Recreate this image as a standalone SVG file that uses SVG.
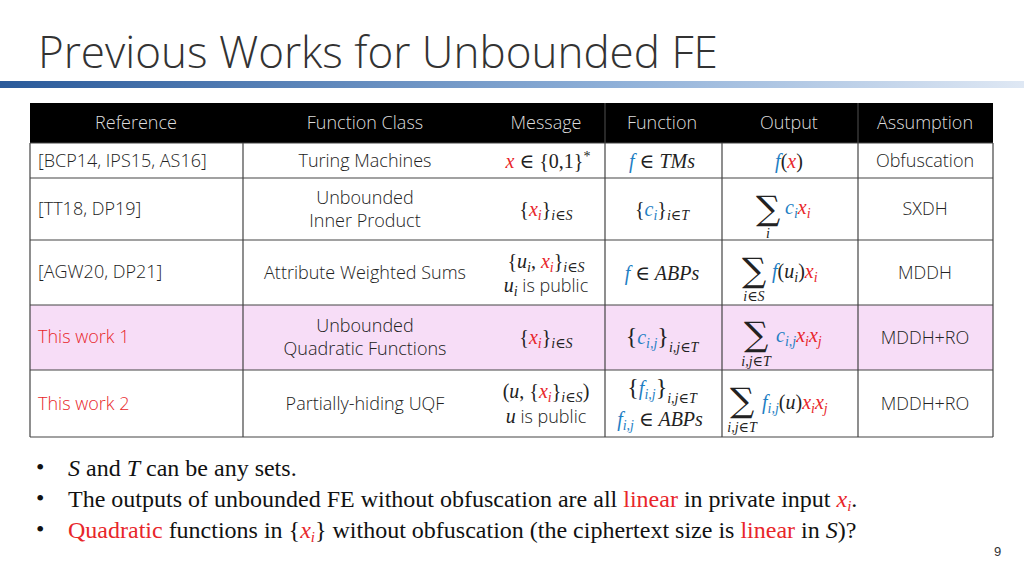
<svg xmlns="http://www.w3.org/2000/svg" width="1024" height="576" viewBox="0 0 1024 576">
<defs>
<linearGradient id="bar" x1="0" x2="1" y1="0" y2="0"><stop offset="0" stop-color="#2a5a9a"/><stop offset="0.6" stop-color="#8fb0d8"/><stop offset="1" stop-color="#dfe8f4"/></linearGradient>
</defs>
<style>
.t{font-family:"Open Sans","Liberation Sans",sans-serif;font-weight:300;font-size:18px;fill:#222}
.h{font-family:"Open Sans","Liberation Sans",sans-serif;font-weight:300;font-size:18px;fill:#ddd}
.m{font-family:"Liberation Serif","DejaVu Serif",serif;font-style:italic;font-size:20px;fill:#222}
.n{font-style:normal}
.r{fill:#e8262a}.b{fill:#1f7fc4}
.s{font-size:14px}
.sig{font-family:"DejaVu Serif",serif;font-size:34px;fill:#222;font-style:normal}
.g line{stroke:#444;stroke-width:1.2}
.bl{font-family:"Liberation Serif",serif;font-size:24px;fill:#111}
</style>
<rect width="1024" height="576" fill="#fff"/>
<text x="38" y="68" style="font-family:'Open Sans','Liberation Sans',sans-serif;font-size:44px;font-weight:300;fill:#333">Previous Works for Unbounded FE</text>
<rect x="0" y="81" width="1024" height="7" fill="url(#bar)"/>
<g id="table">
<rect x="30" y="103" width="963" height="40" fill="#000"/>
<rect x="30" y="305" width="963" height="65" fill="#f7ddf7"/>
<g class="g">
<line x1="30" y1="143" x2="993" y2="143"/><line x1="30" y1="178" x2="993" y2="178"/><line x1="30" y1="240" x2="993" y2="240"/><line x1="30" y1="305" x2="993" y2="305"/><line x1="30" y1="370" x2="993" y2="370"/><line x1="30" y1="437" x2="993" y2="437"/>
<line x1="30" y1="143" x2="30" y2="437"/><line x1="243" y1="143" x2="243" y2="437"/><line x1="605" y1="103" x2="605" y2="437"/><line x1="722" y1="143" x2="722" y2="437"/><line x1="858" y1="103" x2="858" y2="437"/><line x1="993" y1="143" x2="993" y2="437"/>
</g>
<text class="h" x="136" y="129" text-anchor="middle">Reference</text>
<text class="h" x="365" y="129" text-anchor="middle">Function Class</text>
<text class="h" x="546" y="129" text-anchor="middle">Message</text>
<text class="h" x="662" y="129" text-anchor="middle">Function</text>
<text class="h" x="789" y="129" text-anchor="middle">Output</text>
<text class="h" x="925" y="129" text-anchor="middle">Assumption</text>
<text class="t" x="38" y="167">[BCP14, IPS15, AS16]</text>
<text class="t" x="365" y="167" text-anchor="middle">Turing Machines</text>
<text class="m" x="548" y="168" text-anchor="middle"><tspan class="r">x</tspan> ∈ <tspan class="n">{0,1}</tspan><tspan class="s n" dy="-7">*</tspan></text>
<text class="m" x="662" y="168" text-anchor="middle"><tspan class="b">f</tspan> ∈ TMs</text>
<text class="m" x="789" y="168" text-anchor="middle"><tspan class="b">f</tspan><tspan class="n">(</tspan><tspan class="r">x</tspan><tspan class="n">)</tspan></text>
<text class="t" x="925" y="167" text-anchor="middle">Obfuscation</text>
<text class="t" x="38" y="215">[TT18, DP19]</text>
<text class="t" x="365" y="204" text-anchor="middle">Unbounded</text>
<text class="t" x="365" y="227" text-anchor="middle">Inner Product</text>
<text class="m" x="546" y="216" text-anchor="middle"><tspan class="n">{</tspan><tspan class="r">x<tspan class="s" dy="4">i</tspan></tspan><tspan class="n" dy="-4">}</tspan><tspan class="s" dy="4">i∈S</tspan></text>
<text class="m" x="662" y="216" text-anchor="middle"><tspan class="n">{</tspan><tspan class="b">c<tspan class="s" dy="4">i</tspan></tspan><tspan class="n" dy="-4">}</tspan><tspan class="s" dy="4">i∈T</tspan></text>
<text class="sig" x="756" y="220">∑</text>
<text class="m s" x="768" y="238" text-anchor="middle">i</text>
<text class="m" x="785" y="214"><tspan class="b">c<tspan class="s" dy="4">i</tspan></tspan><tspan class="r" dy="-4">x<tspan class="s" dy="4">i</tspan></tspan></text>
<text class="t" x="925" y="215" text-anchor="middle">SXDH</text>
<text class="t" x="38" y="278">[AGW20, DP21]</text>
<text class="t" x="365" y="279" text-anchor="middle">Attribute Weighted Sums</text>
<text class="m" x="546" y="268" text-anchor="middle"><tspan class="n">{</tspan>u<tspan class="s" dy="4">i</tspan><tspan class="n" dy="-4">, </tspan><tspan class="r">x<tspan class="s" dy="4">i</tspan></tspan><tspan class="n" dy="-4">}</tspan><tspan class="s" dy="4">i∈S</tspan></text>
<text class="m" x="546" y="292" text-anchor="middle">u<tspan class="s" dy="4">i</tspan><tspan class="n" dy="-4" style="font-family:'Open Sans',sans-serif;font-weight:300;font-size:18px"> is public</tspan></text>
<text class="m" x="662" y="280" text-anchor="middle"><tspan class="b">f</tspan> ∈ ABPs</text>
<text class="sig" x="742" y="282">∑</text>
<text class="m s" x="754" y="301" text-anchor="middle">i∈S</text>
<text class="m" x="772" y="278"><tspan class="b">f</tspan><tspan class="n">(</tspan>u<tspan class="s" dy="4">i</tspan><tspan class="n" dy="-4">)</tspan><tspan class="r">x<tspan class="s" dy="4">i</tspan></tspan></text>
<text class="t" x="925" y="279" text-anchor="middle">MDDH</text>
<text class="t r" x="38" y="343">This work 1</text>
<text class="t" x="365" y="332" text-anchor="middle">Unbounded</text>
<text class="t" x="365" y="355" text-anchor="middle">Quadratic Functions</text>
<text class="m" x="546" y="344" text-anchor="middle"><tspan class="n">{</tspan><tspan class="r">x<tspan class="s" dy="4">i</tspan></tspan><tspan class="n" dy="-4">}</tspan><tspan class="s" dy="4">i∈S</tspan></text>
<text class="m" x="662" y="344" text-anchor="middle"><tspan class="n" style="font-size:24px">{</tspan><tspan class="b">c<tspan class="s" dy="4">i,j</tspan></tspan><tspan class="n" dy="-4" style="font-size:24px">}</tspan><tspan class="s" dy="8">i,j∈T</tspan></text>
<text class="sig" x="744" y="346">∑</text>
<text class="m s" x="756" y="366" text-anchor="middle">i,j∈T</text>
<text class="m" x="776" y="342"><tspan class="b">c<tspan class="s" dy="4">i,j</tspan></tspan><tspan class="r" dy="-4">x<tspan class="s" dy="4">i</tspan></tspan><tspan class="r" dy="-4">x<tspan class="s" dy="4">j</tspan></tspan></text>
<text class="t" x="925" y="344" text-anchor="middle">MDDH+RO</text>
<text class="t r" x="38" y="410">This work 2</text>
<text class="t" x="365" y="410" text-anchor="middle">Partially-hiding UQF</text>
<text class="m" x="546" y="398" text-anchor="middle"><tspan class="n">(</tspan>u<tspan class="n">, {</tspan><tspan class="r">x<tspan class="s" dy="4">i</tspan></tspan><tspan class="n" dy="-4">}</tspan><tspan class="s" dy="4">i∈S</tspan><tspan class="n" dy="-4">)</tspan></text>
<text class="m" x="546" y="423" text-anchor="middle">u<tspan class="n" style="font-family:'Open Sans',sans-serif;font-weight:300;font-size:18px"> is public</tspan></text>
<text class="m" x="662" y="395" text-anchor="middle"><tspan class="n" style="font-size:24px">{</tspan><tspan class="b">f<tspan class="s" dy="4">i,j</tspan></tspan><tspan class="n" dy="-4" style="font-size:24px">}</tspan><tspan class="s" dy="8">i,j∈T</tspan></text>
<text class="m" x="660" y="426" text-anchor="middle"><tspan class="b">f<tspan class="s" dy="4">i,j</tspan></tspan><tspan dy="-4"> ∈ ABPs</tspan></text>
<text class="sig" x="730" y="412">∑</text>
<text class="m s" x="742" y="432" text-anchor="middle">i,j∈T</text>
<text class="m" x="762" y="409"><tspan class="b">f<tspan class="s" dy="4">i,j</tspan></tspan><tspan class="n" dy="-4">(</tspan>u<tspan class="n">)</tspan><tspan class="r">x<tspan class="s" dy="4">i</tspan></tspan><tspan class="r" dy="-4">x<tspan class="s" dy="4">j</tspan></tspan></text>
<text class="t" x="925" y="410" text-anchor="middle">MDDH+RO</text>
</g>
<g id="bullets">
<text class="bl" x="36" y="475">•</text>
<text class="bl" x="68" y="476"><tspan font-style="italic">S</tspan> and <tspan font-style="italic">T</tspan> can be any sets.</text>
<text class="bl" x="36" y="506">•</text>
<text class="bl" x="68" y="507">The outputs of unbounded FE without obfuscation are all <tspan class="r">linear</tspan> in private input <tspan class="r" font-style="italic">x<tspan font-size="15" dy="4">i</tspan></tspan><tspan dy="-4">.</tspan></text>
<text class="bl r" x="36" y="537">•</text>
<text class="bl" x="68" y="538"><tspan class="r">Quadratic</tspan> functions in {<tspan class="r" font-style="italic">x<tspan font-size="15" dy="4">i</tspan></tspan><tspan dy="-4">} without obfuscation (the ciphertext size is </tspan><tspan class="r">linear</tspan> in <tspan font-style="italic">S</tspan>)?</text>
<text x="994" y="556" style="font-family:'Liberation Sans',sans-serif;font-size:13px;fill:#333">9</text>
</g>
</svg>
